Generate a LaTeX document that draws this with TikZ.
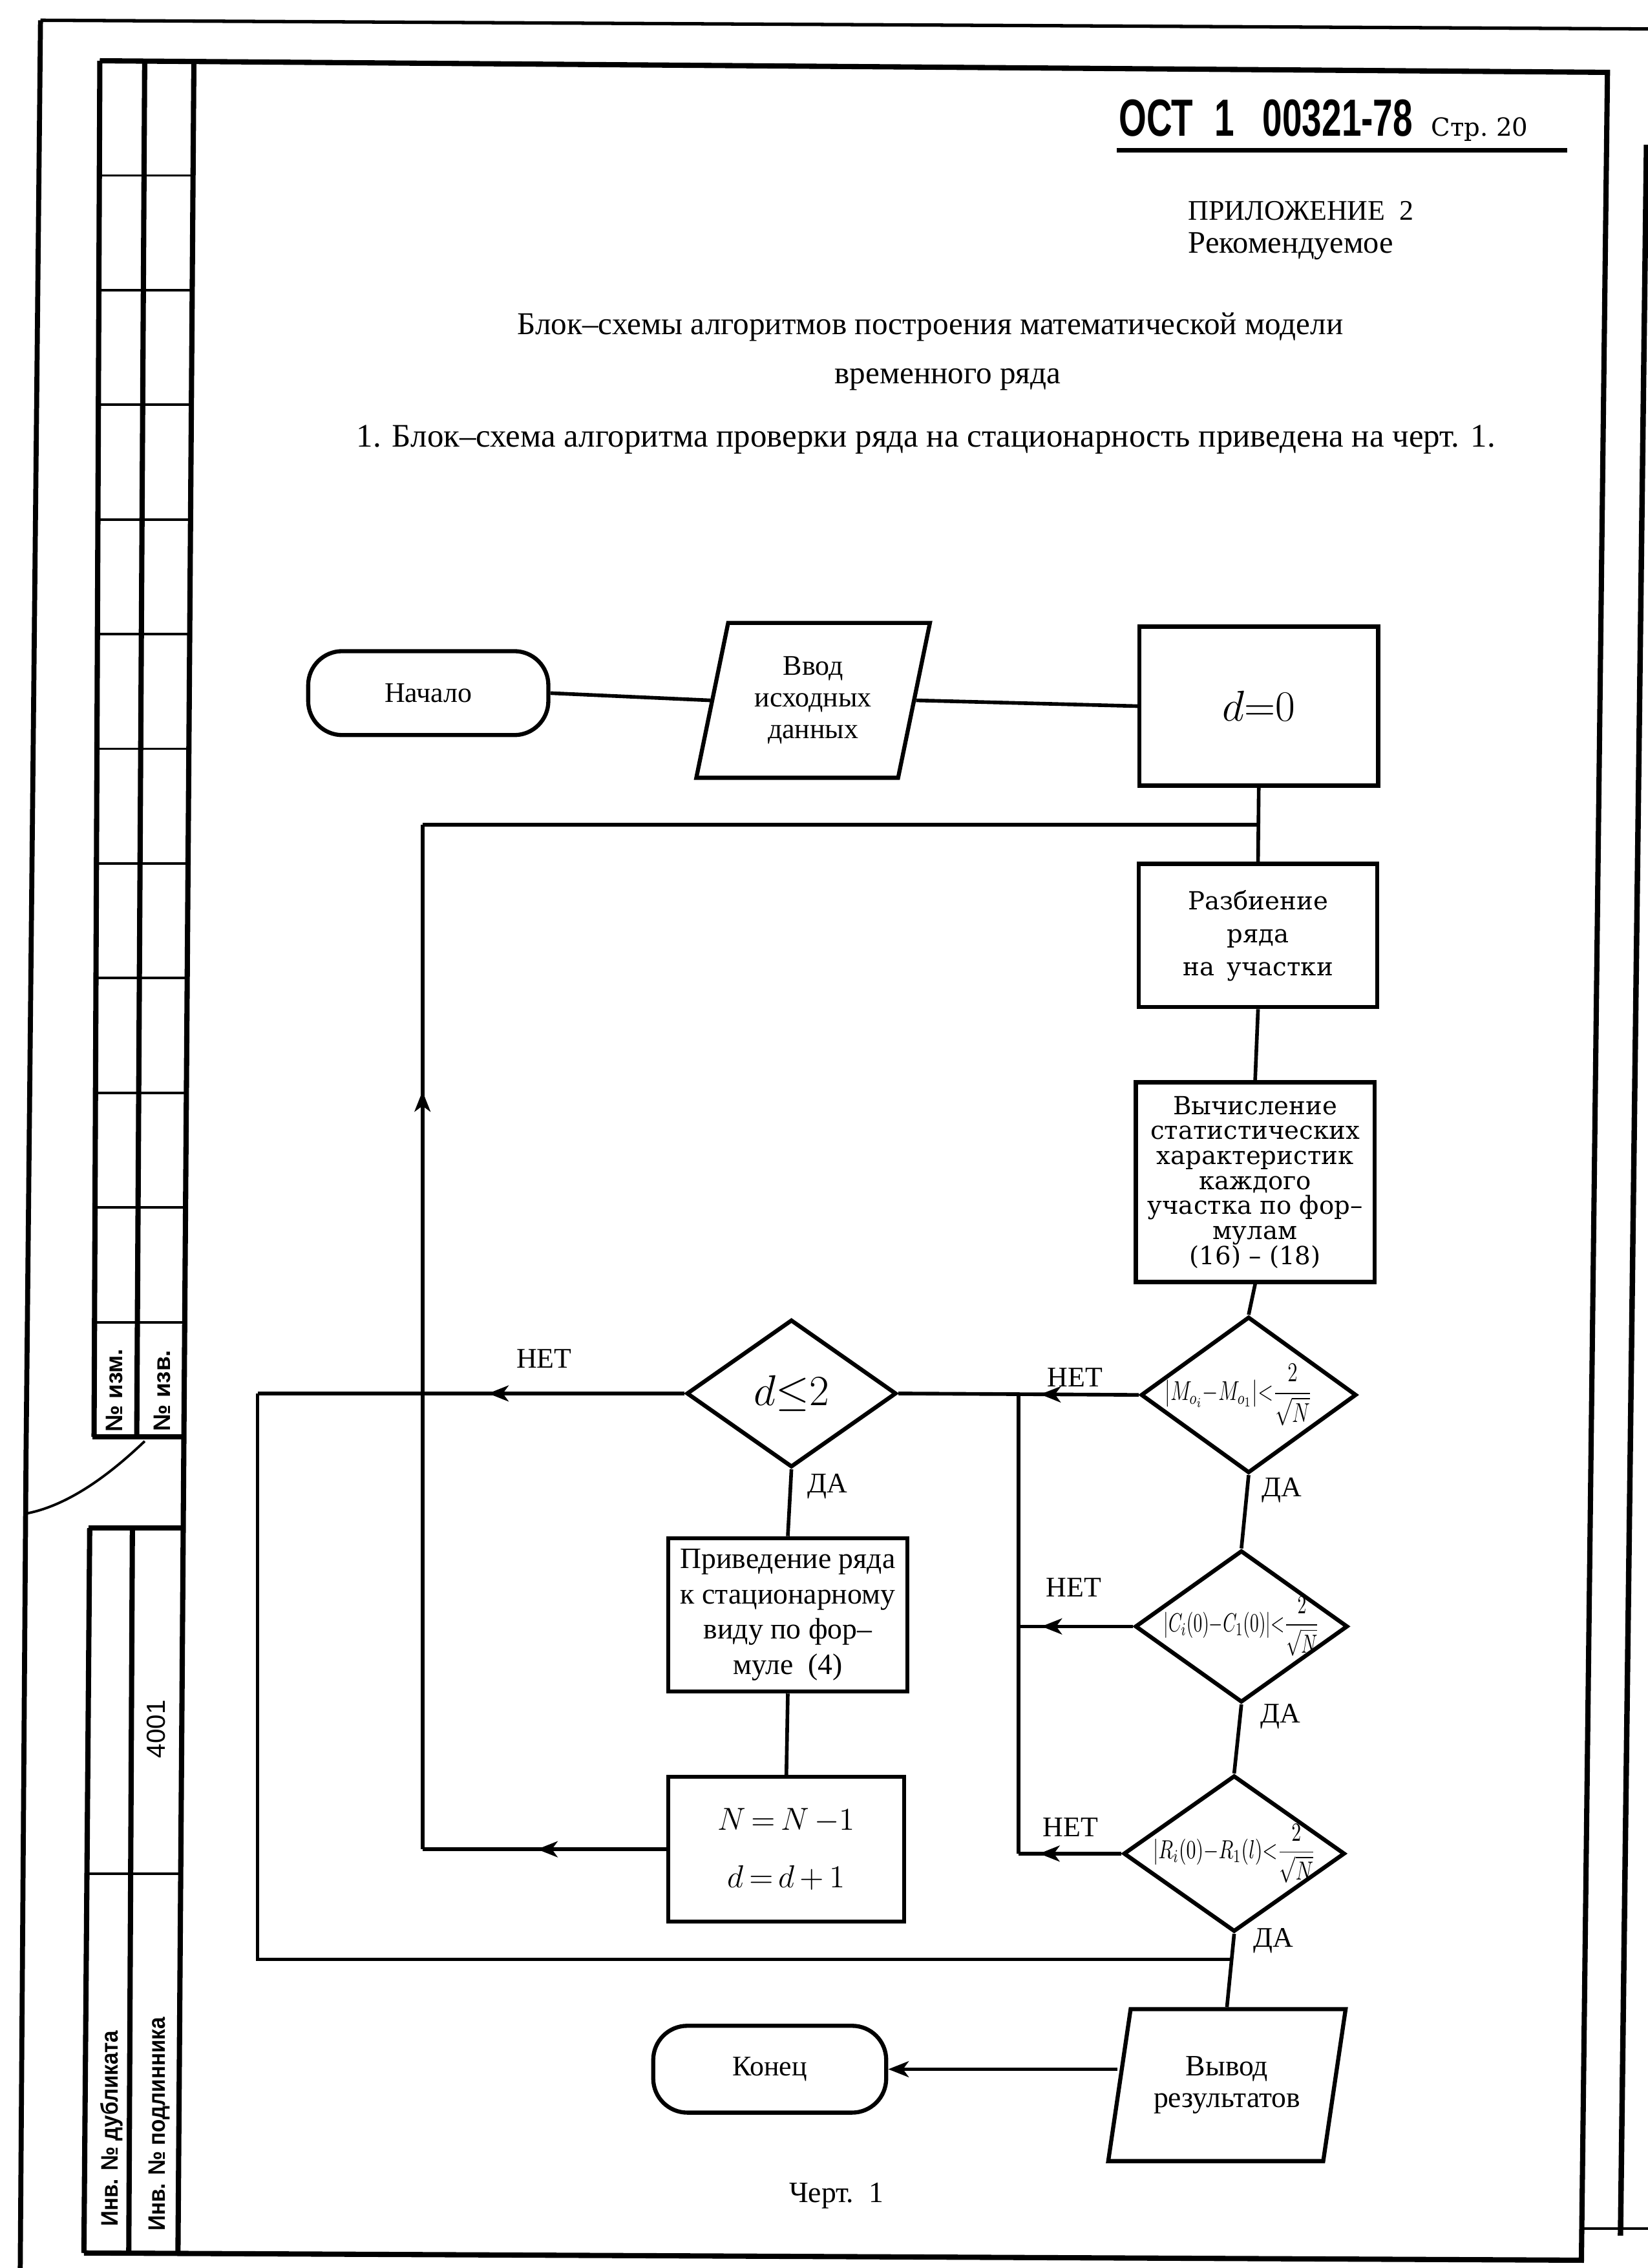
\documentclass[tikz,border=0pt]{standalone}
\usepackage{fix-cm}
\usepackage{amsmath}
\usepackage{fontspec}
\setmainfont{Liberation Serif}
\newfontfamily\slabfont{DejaVu Serif}
\newfontfamily\gostfont{Liberation Sans}
\usetikzlibrary{shapes.geometric,arrows.meta,decorations.markings,calc}
\tikzset{>={Stealth[length=9pt,width=7pt,inset=2.5pt]}}
\newcommand{\pxu}{0.637pt}

\begin{document}
\begin{tikzpicture}[x=0.22388mm, y=-0.22388mm,
    every node/.style={font=\fontsize{12.5}{15}\selectfont, inner sep=0pt},
    conn/.style={line width=1.6pt},
    blk/.style={draw, line width=1.8pt, align=center},
    proc/.style={blk, rectangle},
    term/.style={blk, rectangle, rounded corners=15pt},
    io/.style={blk, trapezium, trapezium stretches=true},
    cond/.style={blk, diamond},
    slab/.style={font=\slabfont\fontsize{11}{14.5}\selectfont},
    frm/.style={line width=2.3pt},
    rowline/.style={line width=1.1pt},
    stamp/.style={rotate=90, font=\gostfont\bfseries\fontsize{10.5}{10.5}\selectfont},
    arrowat/.style={postaction={decorate}, decoration={markings,
        mark=at position #1 with {\arrow{>}}}}]
\path[use as bounding box, fill=white] (0,0) rectangle (1139,1567.4);

% page edge and frame
\draw[line width=2.2pt] (28,14) -- (18,1005) -- (14,1567.4);
\draw[line width=1.5pt] (28,14) -- (1139,20);
\draw[line width=2.4pt] (1138,100) -- (1120,1545);
\draw[rowline] (1093,1540) -- (1139,1540);
\draw[frm] (69,42) -- (1111,50) -- (1093,1562) -- (58,1557);
\draw[frm] (134,42) -- (123,1557);

% stamp
\draw[frm] (69,42) -- (65,993);
\draw[frm] (100,42) -- (94.5,993);
\foreach \r in {1,...,11}
  \draw[rowline] ({69-0.0042*79.25*\r},{42+79.25*\r}) -- ({134-0.0073*79.25*\r},{42+79.25*\r});
\draw[frm] (64,993) -- (127,993);
\draw[frm] (61,1056) -- (127,1056);
\draw[frm] (62,1056) -- (58,1557);
\draw[frm] (91.5,1056) -- (89,1557);
\draw[rowline] (60,1295) -- (125,1295);
\draw[rowline] (100,996) .. controls (80,1015) and (50,1040) .. (18,1046);
\node[stamp] (izm) at (79,961) {№ изм.};
\node[stamp] (izv) at (112,961) {№ изв.};
\node[rotate=90, font=\gostfont\fontsize{11.5}{11.5}\selectfont] (inv) at (108,1195) {4001};
\node[stamp] (dub) at (77,1471) {\scalebox{0.9}[1]{Инв. № дубликата}};
\node[stamp] (podl) at (110,1468) {\scalebox{0.9}[1]{Инв. № подлинника}};

% header
\node[anchor=base, font=\gostfont\bfseries\fontsize{23}{23}\selectfont] (ost) at (875,94)
  {\scalebox{0.68}[1]{ОСТ\hspace{0.6em}1\hspace{0.8em}00321-78}};
\draw[line width=2pt] (772,104) -- (1083,104);
\node[anchor=base west, font=\slabfont\fontsize{11}{11}\selectfont] (str) at (989,94) {Стр.\ 20};
\node[anchor=base west, font=\fontsize{12.5}{12.5}\selectfont] (pril) at (821,152) {ПРИЛОЖЕНИЕ\enspace 2};
\node[anchor=base west, font=\fontsize{13.8}{13.8}\selectfont] (rek) at (821,175) {Рекомендуемое};
\node[anchor=base, font=\fontsize{14}{14}\selectfont] (tit1) at (643,231) {Блок–схемы алгоритмов построения математической модели};
\node[anchor=base, font=\fontsize{14}{14}\selectfont] (tit2) at (655,265) {временного ряда};
\node[anchor=base, font=\fontsize{14.5}{14.5}\selectfont] (tit3) at (640,309) {1. Блок–схема алгоритма проверки ряда на стационарность приведена на черт. 1.};

% blocks
\node[term, minimum width=166*\pxu, minimum height=58*\pxu] (nach) at (296,479) {Начало};
\node[io, trapezium left angle=76, trapezium right angle=104, font=\fontsize{12.5}{14}\selectfont,
      minimum width=162*\pxu, minimum height=107*\pxu] (vvod) at (562,484) {Ввод\\исходных\\данных};
\node[proc, minimum width=165*\pxu, minimum height=110*\pxu] (dzero) at (870,488)
  {\fontsize{19}{19}\selectfont$d{=}0$};
\node[proc, slab, minimum width=165*\pxu, minimum height=99*\pxu] (razb) at (869.5,646.5)
  {Разбиение\\ряда\\на\enspace участки};
\node[proc, font=\slabfont\fontsize{11}{11}\selectfont, minimum width=165*\pxu, minimum height=138*\pxu] (vych) at (867.5,817)
  {Вычисление\\статистических\\характеристик\\каждого\\участка по фор–\\мулам\\(16) – (18)};
\node[cond, minimum width=149*\pxu, minimum height=108*\pxu] (d1) at (863,964)
  {\makebox[0pt]{\hspace*{-9pt}\fontsize{12}{12}\selectfont\scalebox{0.74}[1]{$|M_{o_i}{-}M_{o_1}|{<}\dfrac{2}{\sqrt{N}}$}}};
\node[cond, minimum width=147*\pxu, minimum height=105*\pxu] (d2) at (858,1124)
  {\makebox[0pt]{\fontsize{11.5}{11.5}\selectfont\scalebox{0.68}[1]{$|C_i(0){-}C_1(0)|{<}\dfrac{2}{\sqrt{N}}$}}};
\node[cond, minimum width=153*\pxu, minimum height=108*\pxu] (d3) at (853,1281)
  {\makebox[0pt]{\fontsize{11.5}{11.5}\selectfont\scalebox{0.74}[1]{$|R_i(0){-}R_1(l){<}\dfrac{2}{\sqrt{N}}$}}};
\node[cond, minimum width=145*\pxu, minimum height=102*\pxu] (dle) at (547,963)
  {\fontsize{19}{19}\selectfont$d{\leq}2$};
\node[proc, font=\fontsize{13}{15.6}\selectfont, minimum width=165*\pxu, minimum height=106*\pxu] (priv) at (544.5,1116)
  {Приведение ряда\\к стационарному\\виду по фор–\\муле\enspace(4)};
\node[proc, font=\fontsize{14}{25.5}\selectfont, minimum width=163*\pxu, minimum height=100*\pxu] (nbox) at (543.5,1278)
  {$N\,{=}\,N\,{-}1$\\$d\,{=}\,d\,{+}\,1$};
\node[io, trapezium left angle=73.5, trapezium right angle=106.5, font=\fontsize{13}{14}\selectfont,
      minimum width=165*\pxu, minimum height=105*\pxu] (vyvod) at (848,1441) {Вывод\\результатов};
\node[term, minimum width=161*\pxu, minimum height=60*\pxu] (kon) at (532,1430) {Конец};

% labels
\node (net0) at (376,939) {НЕТ};
\node (net1) at (743,952) {НЕТ};
\node (net2) at (742,1097) {НЕТ};
\node (net3) at (740,1263) {НЕТ};
\node (da0) at (572,1027) {ДА};
\node (da1) at (886,1030) {ДА};
\node (da2) at (885,1186) {ДА};
\node (da3) at (880,1341) {ДА};
\node[anchor=base, font=\fontsize{13}{13}\selectfont] (chert) at (578,1522) {Черт.\enspace 1};

% connectors
\coordinate (jtop) at ($(dzero.south)!0.5!(razb.north)$);
\coordinate (jbot) at ($(d3.south)!0.35!(vyvod.north)$);
\coordinate (jmid) at ($(d1.west)!0.5!(dle.east)$);
\coordinate (cl) at (178,963);
\coordinate (cb) at (292,1278);
\draw[conn] (nach.east) -- (vvod.west);
\draw[conn] (vvod.east) -- (dzero.west);
\draw[conn] (dzero.south) -- (razb.north);
\draw[conn] (razb.south) -- (vych.north);
\draw[conn] (vych.south) -- (d1.north);
\draw[conn] (d1.south) -- (d2.north);
\draw[conn] (d2.south) -- (d3.north);
\draw[conn] (d3.south) -- (vyvod.north);
\draw[conn] (dle.south) -- (priv.north);
\draw[conn] (priv.south) -- (nbox.north);
\draw[conn, arrowat=0.41] (d1.west) -- (dle.east);
\draw[conn] (jmid) -- (jmid |- d3.west);
\draw[conn, arrowat=0.8] (d2.west) -- (jmid |- d2.west);
\draw[conn, arrowat=0.8] (d3.west) -- (jmid |- d3.west);
\draw[conn, arrowat=0.46] (dle.west) -- (cl);
\draw[conn] (cl) |- (jbot);
\draw[conn, arrowat=0.53] (nbox.west) -- (cb);
\draw[conn, arrowat=0.74] (cb) -- (cb |- jtop);
\draw[conn] (cb |- jtop) -- (jtop);
\draw[conn, ->] (vyvod.west |- kon.east) -- (kon.east);
\end{tikzpicture}
\end{document}
